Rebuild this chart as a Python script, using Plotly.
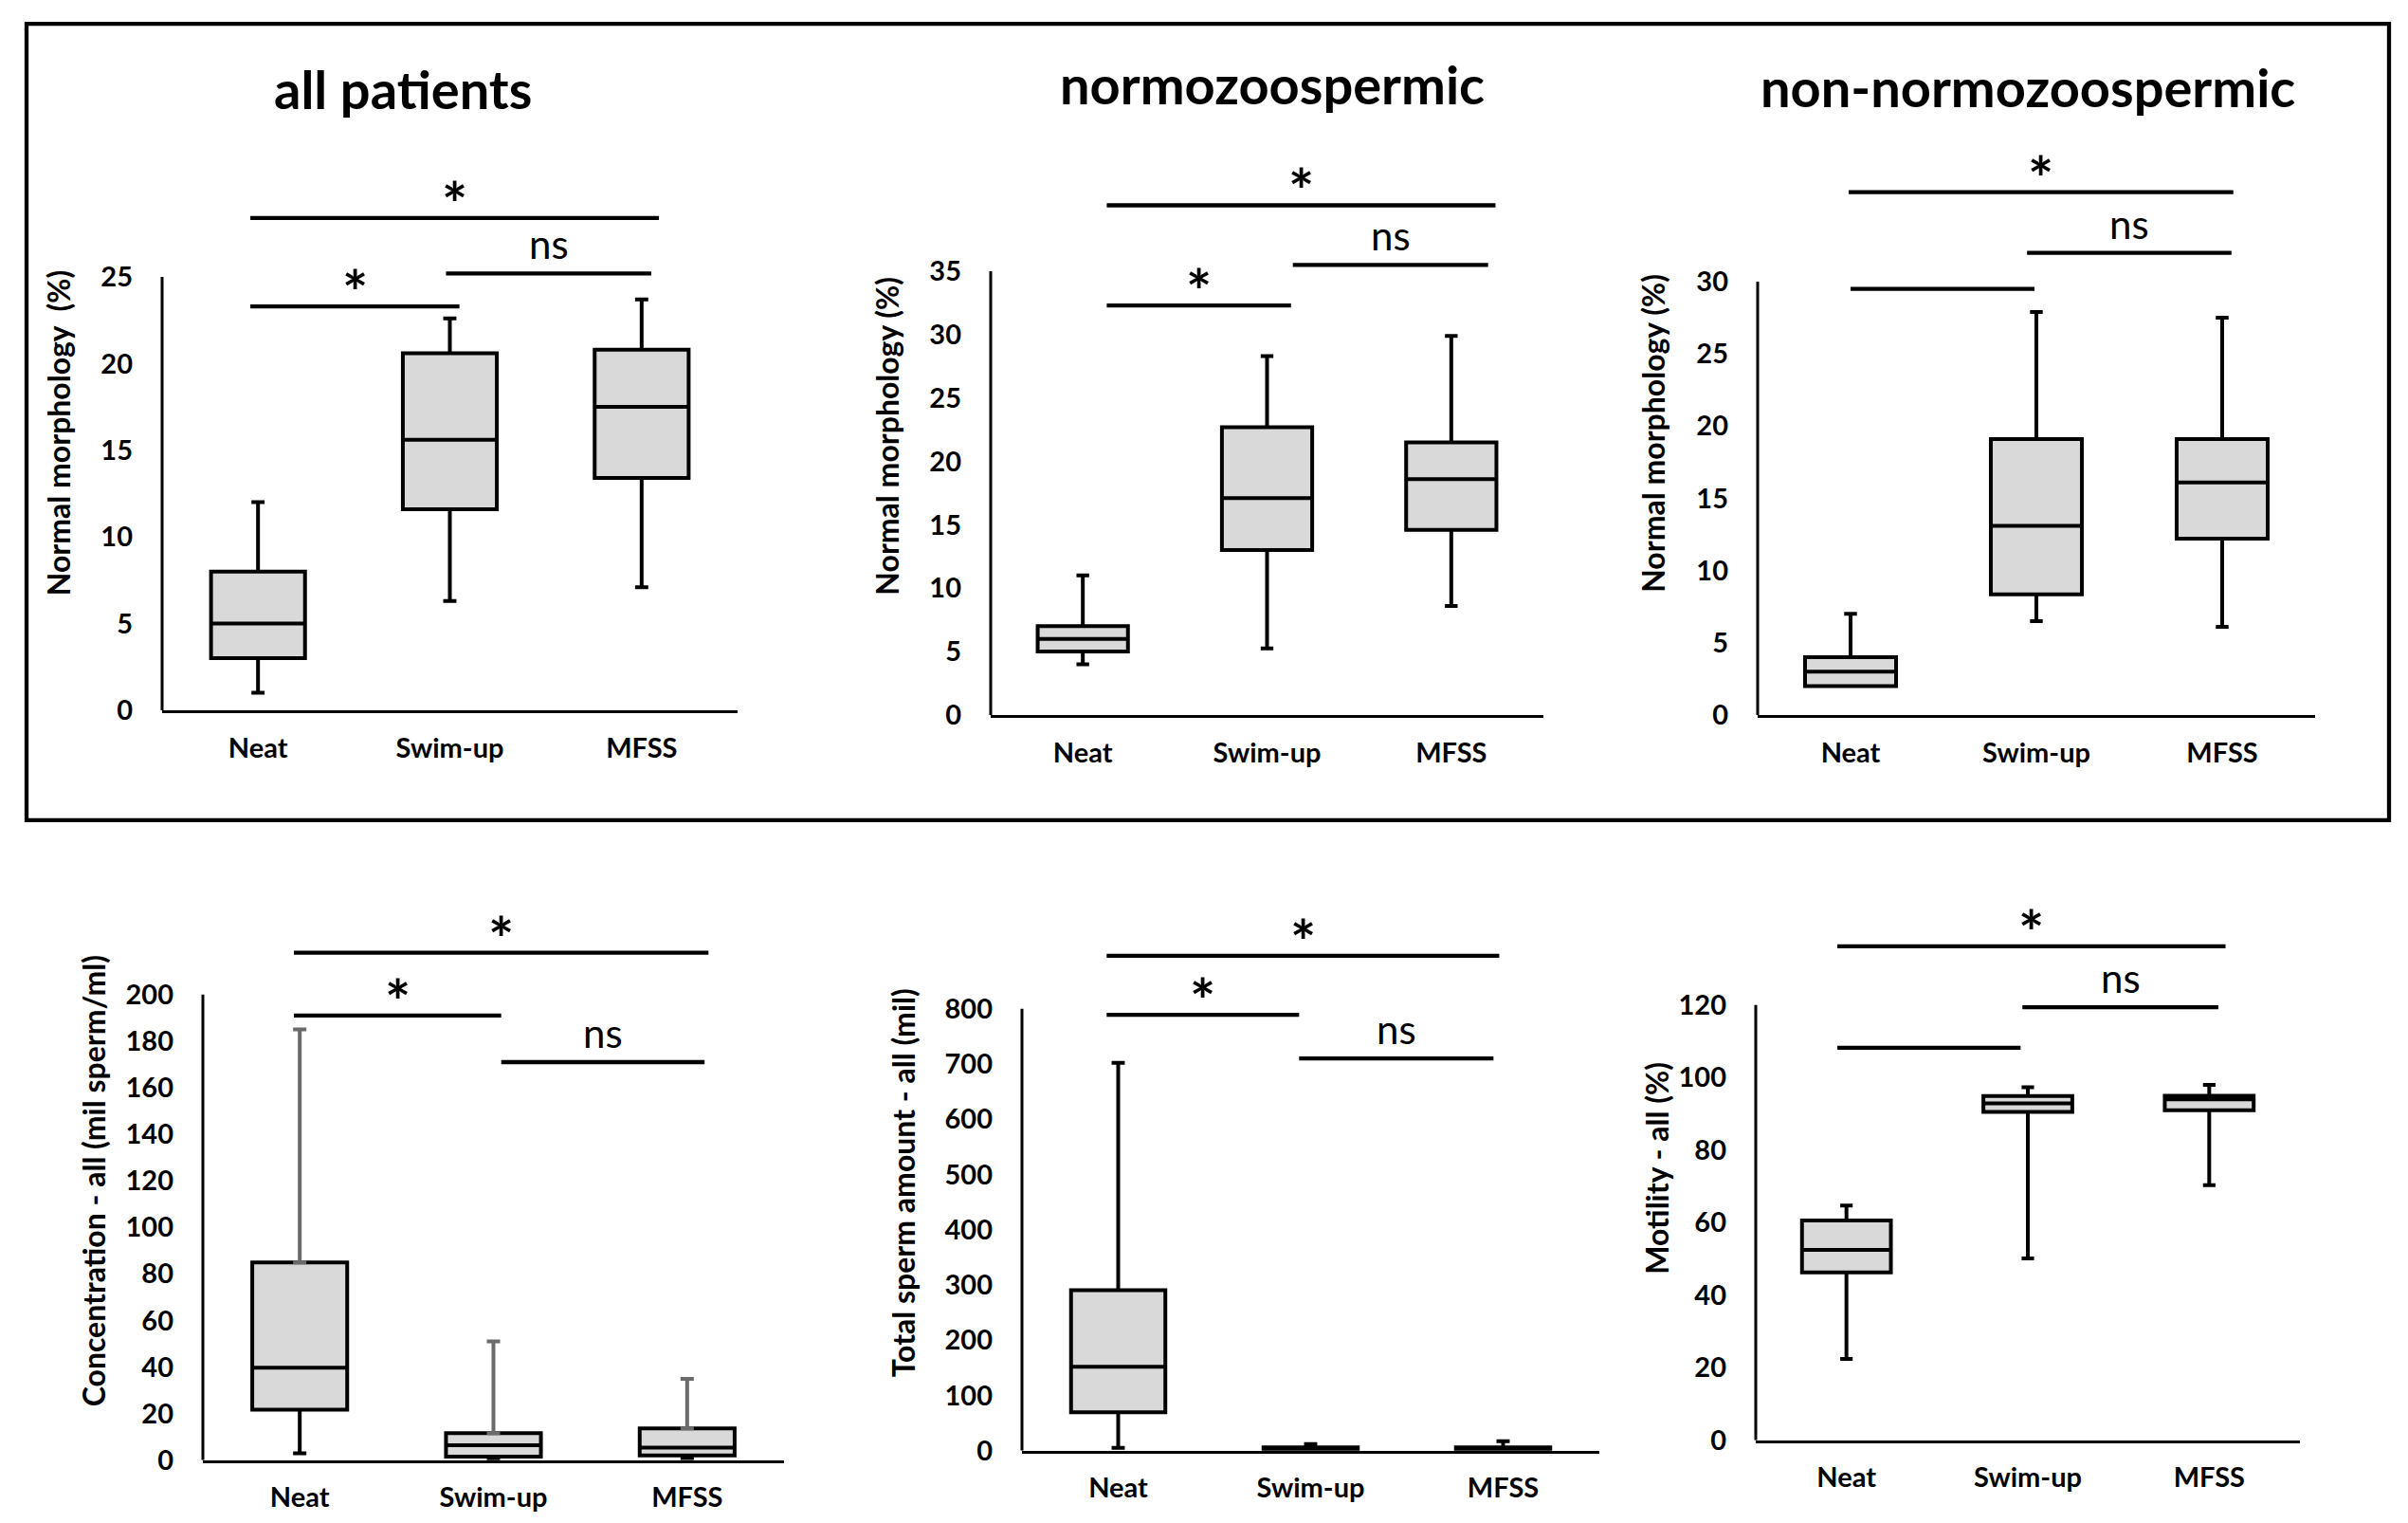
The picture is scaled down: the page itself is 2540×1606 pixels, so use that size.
import plotly.graph_objects as go

# Box plots: sperm parameters after Neat / Swim-up / MFSS preparation
cats = ["Neat", "Swim-up", "MFSS"]
catPos = [0, 1, 2]

# --- all patients, normal morphology (%)
allLow = [1, 6.3, 7.1]
allQ1 = [3, 11.6, 13.4]
allMed = [5, 15.6, 17.5]
allQ3 = [8, 20.6, 20.8]
allHigh = [12, 22.6, 23.7]
allSigLevel = [28.4, 23.3, 25.2]
allSigFrom = [-0.04, -0.04, 0.98]
allSigTo = [2.09, 1.05, 2.05]
allSigText = ["*", "*", "ns"]

# --- normozoospermic, normal morphology (%)
normLow = [4, 5.25, 8.6]
normQ1 = [5, 13.0, 14.6]
normMed = [6, 17.1, 18.6]
normQ3 = [7, 22.7, 21.5]
normHigh = [11, 28.3, 29.9]
normSigLevel = [40.2, 32.3, 35.5]
normSigFrom = [0.13, 0.13, 1.14]
normSigTo = [2.24, 1.13, 2.2]
normSigText = ["*", "*", "ns"]

# --- non-normozoospermic, normal morphology (%)
nonLow = [2, 6.5, 6.1]
nonQ1 = [2, 8.35, 12.2]
nonMed = [3, 13.1, 16.1]
nonQ3 = [4, 19.1, 19.1]
nonHigh = [7, 27.9, 27.5]
nonSigLevel = [36.2, 29.5, 32.0]
nonSigFrom = [-0.01, 0.0, 0.95]
nonSigTo = [2.06, 0.99, 2.05]
nonSigText = ["*", "", "ns"]

# --- concentration - all (mil sperm/ml)
concLow = [2.9, 0.5, 0.8]
concQ1 = [21.7, 1.5, 2.0]
concMed = [39.7, 6.4, 5.4]
concQ3 = [84.9, 11.6, 13.6]
concHigh = [185, 51, 34.9]
concSigLevel = [218, 191, 171]
concSigFrom = [-0.03, -0.03, 1.04]
concSigTo = [2.11, 1.04, 2.09]
concSigText = ["*", "*", "ns"]

# --- total sperm amount - all (mil)
totLow = [5, 0.5, 0.5]
totQ1 = [69.4, 1, 1]
totMed = [151.8, 3, 2.5]
totQ3 = [290.6, 6, 6]
totHigh = [702, 12, 17]
totSigLevel = [896, 789, 710]
totSigFrom = [-0.06, -0.06, 0.94]
totSigTo = [1.98, 0.94, 1.95]
totSigText = ["*", "*", "ns"]

# --- motility - all (%)
motLow = [22.4, 50.1, 70.3]
motQ1 = [46.3, 90.5, 91.0]
motMed = [52.5, 92.9, 94.0]
motQ3 = [60.6, 94.9, 95.0]
motHigh = [64.7, 97.3, 98.0]
motSigLevel = [136.2, 108.2, 119.4]
motSigFrom = [-0.05, -0.05, 0.97]
motSigTo = [2.09, 0.96, 2.05]
motSigText = ["*", "", "ns"]

# the page keeps the default 8px <body> margin, and the shot comes out
# about 1% shorter than the page, so page positions are corrected for both
PAGE_MARGIN = 8
Y_STRETCH = 1.0097
W, H = 2540 - 2 * PAGE_MARGIN, 1622

def px2x(px):
    return (px - PAGE_MARGIN) / W

def px2y(py):
    return 1 - (py * Y_STRETCH - PAGE_MARGIN) / H

# pixel box of each plot: left, right, y of 0, y of the top tick
panels = [
  dict(low=allLow, q1=allQ1, med=allMed, q3=allQ3, high=allHigh,
       sigLevel=allSigLevel, sigFrom=allSigFrom, sigTo=allSigTo, sigText=allSigText,
       ytitle="Normal morphology  (%)", title="all patients",
       ytop=25, ystep=5, ymax=32, grayUpper=False, standoff=22,
       box=[171, 778, 749, 292], titlePx=[425, 93]),
  dict(low=normLow, q1=normQ1, med=normMed, q3=normQ3, high=normHigh,
       sigLevel=normSigLevel, sigFrom=normSigFrom, sigTo=normSigTo, sigText=normSigText,
       ytitle="Normal morphology (%)", title="normozoospermic",
       ytop=35, ystep=5, ymax=44, grayUpper=False, standoff=22,
       box=[1045, 1628, 754, 286], titlePx=[1342, 88]),
  dict(low=nonLow, q1=nonQ1, med=nonMed, q3=nonQ3, high=nonHigh,
       sigLevel=nonSigLevel, sigFrom=nonSigFrom, sigTo=nonSigTo, sigText=nonSigText,
       ytitle="Normal morphology (%)", title="non-normozoospermic",
       ytop=30, ystep=5, ymax=39, grayUpper=False, standoff=23,
       box=[1854, 2442, 754, 297], titlePx=[2139, 91]),
  dict(low=concLow, q1=concQ1, med=concMed, q3=concQ3, high=concHigh,
       sigLevel=concSigLevel, sigFrom=concSigFrom, sigTo=concSigTo, sigText=concSigText,
       ytitle="Concentration - all (mil sperm/ml)", title="",
       ytop=200, ystep=20, ymax=240, grayUpper=True, standoff=11,
       box=[214, 827, 1540, 1049], titlePx=None),
  dict(low=totLow, q1=totQ1, med=totMed, q3=totQ3, high=totHigh,
       sigLevel=totSigLevel, sigFrom=totSigFrom, sigTo=totSigTo, sigText=totSigText,
       ytitle="Total sperm amount - all (mil)", title="",
       ytop=800, ystep=100, ymax=970, grayUpper=False, standoff=21,
       box=[1078, 1687, 1530, 1064], titlePx=None),
  dict(low=motLow, q1=motQ1, med=motMed, q3=motQ3, high=motHigh,
       sigLevel=motSigLevel, sigFrom=motSigFrom, sigTo=motSigTo, sigText=motSigText,
       ytitle="Motility - all (%)", title="",
       ytop=120, ystep=20, ymax=150, grayUpper=False, standoff=0,
       box=[1852, 2426, 1519, 1060], titlePx=None),
]

FONT = "Lato"
tickFont = dict(family=FONT, size=29, color="black", weight="bold")

fig = go.Figure()
layout = {}

for i, p in enumerate(panels):
    n = i + 1
    xa = "x" if n == 1 else "x%d" % n
    ya = "y" if n == 1 else "y%d" % n

    left, right, yZero, yTick = p["box"]
    # the axis range goes above the top tick to make room for the bars
    yTopPx = yZero - p["ymax"] * (yZero - yTick) / p["ytop"]

    # Excel draws the upper whisker of the concentration chart in grey,
    # so the box gets no upper whisker there and we add it as an error bar
    upper = p["q3"] if p["grayUpper"] else p["high"]
    fig.add_trace(go.Box(
        x=catPos, q1=p["q1"], median=p["med"], q3=p["q3"],
        lowerfence=p["low"], upperfence=upper,
        boxpoints=False, whiskerwidth=0.14,
        fillcolor="#d9d9d9", line=dict(color="black", width=4),
        xaxis=xa, yaxis=ya, hoverinfo="skip", showlegend=False))
    if p["grayUpper"]:
        fig.add_trace(go.Scatter(
            x=catPos, y=p["q3"], mode="markers", marker=dict(size=0.1, color="rgba(0,0,0,0)"),
            error_y=dict(type="data", symmetric=False,
                         array=[h - q for h, q in zip(p["high"], p["q3"])],
                         arrayminus=[0, 0, 0], color="#6b6b6b", thickness=4, width=7),
            xaxis=xa, yaxis=ya, hoverinfo="skip", showlegend=False))

    # significance bars
    for lev, a, b, txt in zip(p["sigLevel"], p["sigFrom"], p["sigTo"], p["sigText"]):
        fig.add_trace(go.Scatter(
            x=[a, b], y=[lev, lev], mode="lines",
            line=dict(color="black", width=4.3),
            xaxis=xa, yaxis=ya, hoverinfo="skip", showlegend=False))
        if txt:
            star = txt == "*"
            fig.add_annotation(
                x=(a + b) / 2, y=lev, xref=xa, yref=ya, text=txt,
                showarrow=False, yanchor="bottom",
                yshift=-25 if star else 4,
                font=dict(family=FONT, size=64 if star else 42, color="black",
                          weight="bold" if star else "normal"))

    # y axis line only up to the top tick
    fig.add_shape(type="line", xref=xa + " domain", yref=ya,
                  x0=0, x1=0, y0=0, y1=p["ytop"],
                  line=dict(color="black", width=3))

    layout["xaxis" if n == 1 else "xaxis%d" % n] = dict(
        domain=[px2x(left), px2x(right)], anchor=ya, range=[-0.5, 2.5],
        tickvals=catPos, ticktext=cats, ticks="", ticklabelstandoff=12,
        showgrid=False, zeroline=False, showline=True,
        linecolor="black", linewidth=3, tickfont=tickFont)
    layout["yaxis" if n == 1 else "yaxis%d" % n] = dict(
        domain=[px2y(yZero), px2y(yTopPx)], anchor=xa, range=[0, p["ymax"]],
        tickvals=list(range(0, p["ytop"] + 1, p["ystep"])),
        ticks="", ticklabelstandoff=30,
        showgrid=False, zeroline=False, showline=False, tickfont=tickFont,
        title=dict(text=p["ytitle"], standoff=p["standoff"],
                   font=dict(family=FONT, size=32, color="black", weight="bold")))

    if p["titlePx"]:
        fig.add_annotation(
            x=px2x(p["titlePx"][0]), y=px2y(p["titlePx"][1]), xref="paper", yref="paper",
            text=p["title"], showarrow=False, xanchor="center", yanchor="middle",
            font=dict(family=FONT, size=56, color="black", weight="bold"))

# frame around the morphology row
fig.add_shape(type="rect", xref="paper", yref="paper",
              x0=px2x(28), x1=px2x(2520), y0=px2y(865), y1=px2y(25),
              line=dict(color="black", width=4.3))

fig.update_layout(
    width=W, height=H,
    margin=dict(l=0, r=0, t=0, b=0),
    paper_bgcolor="white", plot_bgcolor="white",
    boxgap=0.51, boxgroupgap=0, showlegend=False,
    **layout)

fig.write_html("out.html")
